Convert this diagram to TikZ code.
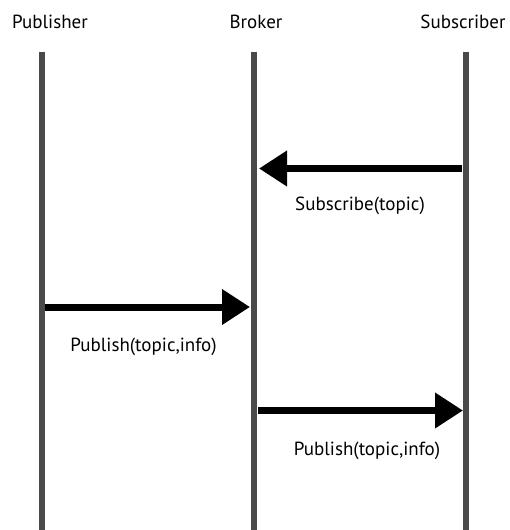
\documentclass[tikz,border=0pt]{standalone}
\usepackage{fontspec}
\setmainfont{PT Sans}
\usetikzlibrary{arrows.meta}
\definecolor{lifegray}{HTML}{4A4A4A}
\begin{document}
\begin{tikzpicture}[x=1bp,y=-1bp,
  lifeline/.style={draw=lifegray,line width=6bp},
  msg/.style={draw=black,line width=7bp,-{Triangle[length=28bp,width=34bp]}},
  head/.style={font=\fontsize{19bp}{22bp}\selectfont,inner sep=0pt,anchor=base},
  msglabel/.style={font=\fontsize{19bp}{22bp}\selectfont,inner sep=0pt,anchor=base}]
  \useasboundingbox (0,0) rectangle (510,530);

  % participants
  \node[head] (pub) at (50,29) {Publisher};
  \node[head] (brk) at (256,29) {Broker};
  \node[head] (sub) at (463,29) {Subscriber};

  % lifelines
  \coordinate (pubtop) at (42,52);  \coordinate (pubbot) at (42,531);
  \coordinate (brktop) at (253.5,52); \coordinate (brkbot) at (253.5,531);
  \coordinate (subtop) at (466,52); \coordinate (subbot) at (466,531);
  \draw[lifeline] (pubtop) -- (pubbot);
  \draw[lifeline] (brktop) -- (brkbot);
  \draw[lifeline] (subtop) -- (subbot);

  % message end points
  \coordinate (s1) at (462,168.5); \coordinate (b1) at (259,168.5);
  \coordinate (p2) at (45,307);    \coordinate (b2) at (250,307);
  \coordinate (b3) at (258,410.5); \coordinate (s3) at (463,410.5);

  % messages
  \draw[msg] (s1) -- (b1);
  \node[msglabel] (l1) at (360,211) {Subscribe(topic)};
  \draw[msg] (p2) -- (b2);
  \node[msglabel] (l2) at (143.5,351) {Publish(topic,info)};
  \draw[msg] (b3) -- (s3);
  \node[msglabel] (l3) at (367,455) {Publish(topic,info)};
\end{tikzpicture}
\end{document}
